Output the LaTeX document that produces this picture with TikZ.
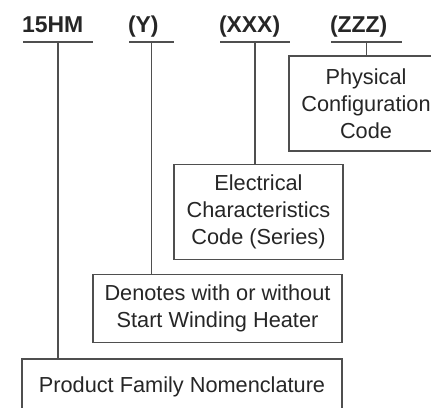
\documentclass[tikz,border=0pt]{standalone}
\usepackage{fontspec}
\setmainfont{Liberation Sans}
\usepackage{xcolor}
\usepackage{tikz}
\usetikzlibrary{positioning}
\definecolor{nomInk}{HTML}{262626}
\definecolor{nomRule}{HTML}{4F4F4F}
\tikzset{
  rule/.style={draw=nomRule, line width=0.9pt},
  codehead/.style={font=\fontsize{17.2}{20}\selectfont\bfseries, text=nomInk,
    inner sep=0pt, outer sep=0pt},
  descbox/.style={
    draw=nomRule, line width=0.9pt, fill=white,
    font=\fontsize{16.3}{20.25}\selectfont, text=nomInk,
    align=center, inner sep=0pt, outer sep=0pt
  },
}

\begin{document}
\begin{tikzpicture}[x=0.75pt,y=-0.75pt]

% --- frame (pixel grid, y down) ---------------------------------------------
\clip (0,0) rectangle (431,407);

% --- header row -------------------------------------------------------------
\def\ruleY{42}   % underline height
\def\headY{32}   % baseline of the codes
\foreach \nm/\lx/\rx/\txt in {fam/23/93/15HM, heat/129/174/{(Y)},
                               elec/220/290/{(XXX)}, phys/331/402/{(ZZZ)}}{
  \node[codehead, anchor=base west] (h\nm) at (\lx-1,\headY) {\txt};
  \draw[rule] (\lx,\ruleY) -- (\rx,\ruleY);
  \coordinate (u\nm) at ({(\lx+\rx)/2},\ruleY);
}

% --- description boxes ------------------------------------------------------
% physical box runs off the right edge, product box off the bottom
\node[descbox, minimum width=115.5pt, minimum height=71.25pt]
  (physbox) at (366,103.5) {Physical\\Configuration\\Code};
\node[descbox, minimum width=126.75pt, minimum height=71.25pt]
  (elecbox) at (258.5,212) {Electrical\\Characteristics\\Code (Series)};
\node[descbox, minimum width=186.75pt, minimum height=51pt]
  (heatbox) at (217.5,308.5) {Denotes with or without\\Start Winding Heater};
\node[descbox, minimum width=240pt, minimum height=42pt]
  (fambox) at (182,387) {Product Family Nomenclature};

% --- leaders from each code down to its box ---------------------------------
\draw[rule] (uphys) -- (uphys |- physbox.north);
\draw[rule] (uelec) -- (uelec |- elecbox.north);
\draw[rule] (uheat) -- (uheat |- heatbox.north);
\draw[rule] (ufam)  -- (ufam  |- fambox.north);

\end{tikzpicture}
\end{document}
